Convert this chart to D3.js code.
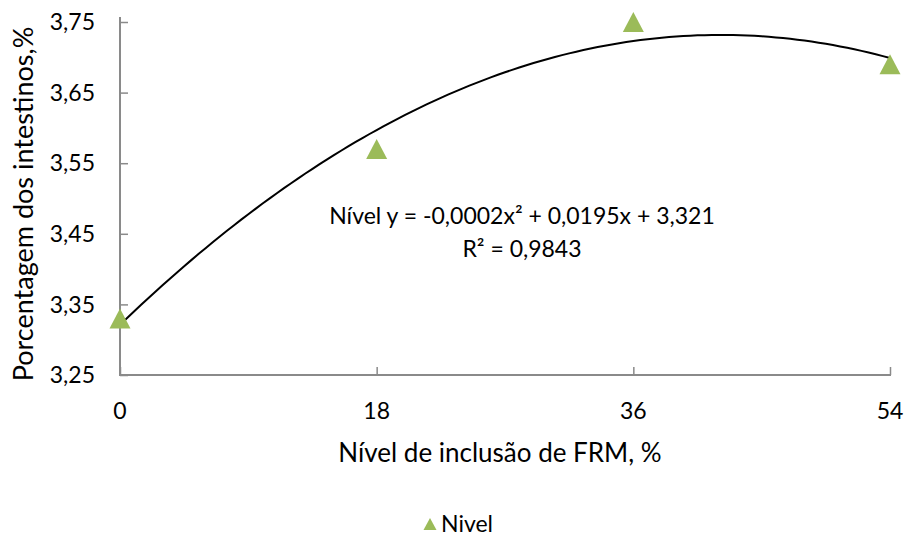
<!DOCTYPE html>
<html>
<head>
<meta charset="utf-8">
<script src="https://cdn.jsdelivr.net/npm/d3@7"></script>
<style>
  html, body { margin: 0; padding: 0; background: #fff; }
  svg text { font-family: Lato, "Open Sans", sans-serif; fill: #000; }
</style>
</head>
<body>
<svg id="chart" width="909" height="538"></svg>
<script>
// Inclusion levels (x) and measured intestine percentage (y)
const levels = [0, 18, 36, 54];
const values = [3.33, 3.57, 3.75, 3.69];
const yTicks = [3.25, 3.35, 3.45, 3.55, 3.65, 3.75];
const xTicks = [0, 18, 36, 54];
const seriesName = "Nivel";
const equationText = "Nível y = -0,0002x² + 0,0195x + 3,321";
const r2Text = "R² = 0,9843";
const xTitle = "Nível de inclusão de FRM, %";
const yTitle = "Porcentagem dos intestinos,%";

const svg = d3.select("#chart");
const plotLeft = 120, plotRight = 890, plotTop = 22, plotBottom = 375;

const x = d3.scaleLinear().domain([0, 54]).range([plotLeft, plotRight]);
const y = d3.scaleLinear().domain([3.25, 3.75]).range([plotBottom, plotTop]);

const fmt = v => d3.format(".2f")(v).replace(".", ",");
const axisColor = "#8a8a8a";
const markerColor = "#9BBB59";

// Triangle marker centred on its bounding box
const triangle = (w, h) => ({
  draw(ctx) {
    ctx.moveTo(0, -h / 2);
    ctx.lineTo(w / 2, h / 2);
    ctx.lineTo(-w / 2, h / 2);
    ctx.closePath();
  }
});

// Y axis: line plus inward ticks
const yAxis = svg.append("g").attr("transform", `translate(${plotLeft},0)`)
  .call(d3.axisRight(y).tickValues(yTicks).tickSize(8).tickFormat(""));
yAxis.select(".domain").remove();
yAxis.selectAll(".tick line").attr("stroke", axisColor).attr("stroke-width", 1.5);
svg.append("line").attr("x1", plotLeft).attr("x2", plotLeft).attr("y1", plotTop - 5).attr("y2", plotBottom + 1)
  .attr("stroke", axisColor).attr("stroke-width", 2);
svg.selectAll(".ylab").data(yTicks).enter().append("text")
  .attr("x", 95).attr("y", d => y(d)).attr("dy", "0.36em")
  .attr("text-anchor", "end").attr("font-size", 23).text(fmt);

// X axis: line plus inward ticks
const xAxis = svg.append("g").attr("transform", `translate(0,${plotBottom})`)
  .call(d3.axisTop(x).tickValues(xTicks).tickSize(8).tickFormat(""));
xAxis.select(".domain").remove();
xAxis.selectAll(".tick line").attr("stroke", axisColor).attr("stroke-width", 1.5);
svg.append("line").attr("x1", plotLeft).attr("x2", plotRight + 1).attr("y1", plotBottom).attr("y2", plotBottom)
  .attr("stroke", axisColor).attr("stroke-width", 2);
svg.selectAll(".xlab").data(xTicks).enter().append("text")
  .attr("x", d => x(d)).attr("y", 419)
  .attr("text-anchor", "middle").attr("font-size", 23).text(d => d);

// Least-squares quadratic trend fitted to the series
function quadFit(xs, ys) {
  let s = [0, 0, 0, 0, 0], t = [0, 0, 0];
  xs.forEach((xi, i) => {
    for (let k = 0; k < 5; k++) s[k] += Math.pow(xi, k);
    for (let k = 0; k < 3; k++) t[k] += Math.pow(xi, k) * ys[i];
  });
  const M = [[s[0], s[1], s[2], t[0]], [s[1], s[2], s[3], t[1]], [s[2], s[3], s[4], t[2]]];
  for (let c = 0; c < 3; c++) {
    for (let r = c + 1; r < 3; r++) {
      const f = M[r][c] / M[c][c];
      for (let k = c; k < 4; k++) M[r][k] -= f * M[c][k];
    }
  }
  const sol = [0, 0, 0];
  for (let r = 2; r >= 0; r--) {
    let acc = M[r][3];
    for (let k = r + 1; k < 3; k++) acc -= M[r][k] * sol[k];
    sol[r] = acc / M[r][r];
  }
  return sol; // [a, b, c] for a + b x + c x^2
}
const [a0, b1, c2] = quadFit(levels, values);
const trend = d3.range(0, 54.001, 0.5).map(v => [v, a0 + b1 * v + c2 * v * v]);
svg.append("path").datum(trend)
  .attr("d", d3.line().x(d => x(d[0])).y(d => y(d[1])))
  .attr("fill", "none").attr("stroke", "#000").attr("stroke-width", 2);

// Markers
const tri = d3.symbol().type(triangle(21, 20));
svg.selectAll(".pt").data(levels).enter().append("path")
  .attr("d", tri)
  .attr("transform", (d, i) => `translate(${x(d)},${y(values[i])})`)
  .attr("fill", markerColor);

// Trend equation and R²
svg.append("text").attr("x", 522).attr("y", 224).attr("text-anchor", "middle")
  .attr("font-size", 23).text(equationText);
svg.append("text").attr("x", 522).attr("y", 257).attr("text-anchor", "middle")
  .attr("font-size", 23).text(r2Text);

// Axis titles
svg.append("text").attr("x", 500).attr("y", 462).attr("text-anchor", "middle")
  .attr("font-size", 26).text(xTitle);
svg.append("text").attr("transform", "translate(33,204) rotate(-90)")
  .attr("text-anchor", "middle").attr("font-size", 27).text(yTitle);

// Legend
svg.append("path").attr("d", d3.symbol().type(triangle(13, 12)))
  .attr("transform", "translate(430,524)").attr("fill", markerColor);
svg.append("text").attr("x", 441).attr("y", 532).attr("font-size", 23).text(seriesName);
</script>
</body>
</html>
